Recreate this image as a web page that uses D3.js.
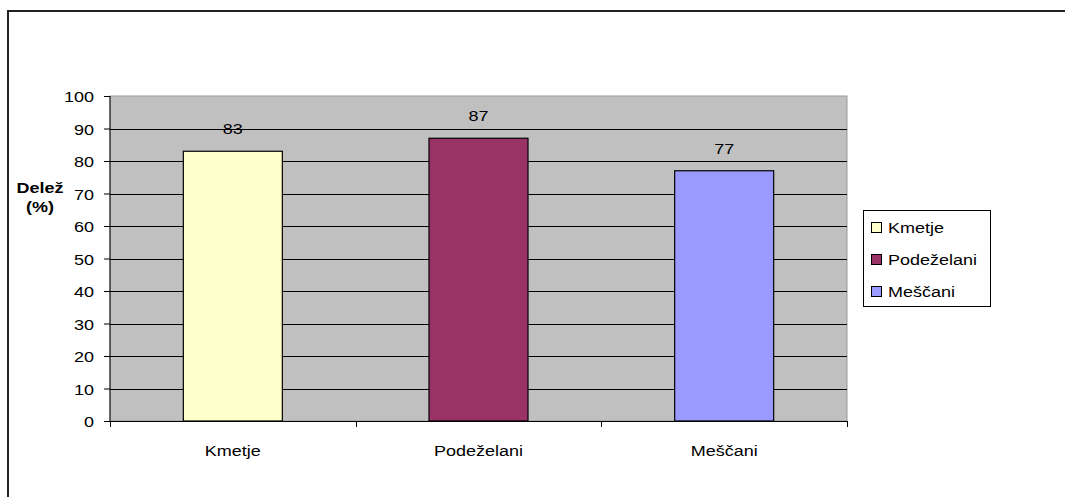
<!DOCTYPE html>
<html>
<head>
<meta charset="utf-8">
<script src="https://cdn.jsdelivr.net/npm/d3@7"></script>
<style>
  html, body { margin: 0; padding: 0; background: #fff; }
  svg { display: block; font-family: "Liberation Sans", Arial, sans-serif; }
</style>
</head>
<body>
<svg id="chart" width="1065" height="497"></svg>
<script>
// Share of respondents (%) by social group
const categories = ["Kmetje", "Podeželani", "Meščani"];
const values = [83, 87, 77];
const colors = ["#FFFFCC", "#993366", "#9999FF"];
const yTicks = [0, 10, 20, 30, 40, 50, 60, 70, 80, 90, 100];
const yTitle = ["Delež", "(%)"];

const FONT = 15;
const SX = 1.2; // horizontal text stretch

const svg = d3.select("#chart");

// place a text at (x, y) with a slight horizontal stretch
function label(parent, x, y, str, anchor, weight) {
  return parent.append("text")
    .attr("transform", `translate(${x},${y}) scale(${SX},1)`)
    .attr("text-anchor", anchor || "middle")
    .attr("font-size", FONT)
    .attr("font-weight", weight || "normal")
    .attr("fill", "#000")
    .text(str);
}

// outer chart frame (left and top edges)
svg.append("path")
  .attr("d", "M8,497 V11 H1065")
  .attr("fill", "none")
  .attr("stroke", "#222")
  .attr("stroke-width", 2);

const plot = { left: 110, right: 847, top: 96, bottom: 421 };

const x = d3.scaleBand()
  .domain(categories)
  .range([plot.left, plot.right])
  .padding(0);

const y = d3.scaleLinear()
  .domain([0, 100])
  .range([plot.bottom, plot.top]);

// plot background
svg.append("rect")
  .attr("x", plot.left)
  .attr("y", plot.top)
  .attr("width", plot.right - plot.left)
  .attr("height", plot.bottom - plot.top)
  .attr("fill", "#C0C0C0")
  .attr("stroke", "#999")
  .attr("stroke-width", 1);

// horizontal gridlines
svg.append("g")
  .selectAll("line")
  .data(yTicks.filter(t => t > 0 && t < 100))
  .join("line")
  .attr("x1", plot.left)
  .attr("x2", plot.right)
  .attr("y1", d => Math.round(y(d)) + 0.5)
  .attr("y2", d => Math.round(y(d)) + 0.5)
  .attr("stroke", "#000")
  .attr("stroke-width", 1);

// bars
const barW = x.bandwidth() * 0.403;
svg.append("g")
  .selectAll("rect")
  .data(categories)
  .join("rect")
  .attr("x", (d) => x(d) + (x.bandwidth() - barW) / 2)
  .attr("y", (d, i) => y(values[i]))
  .attr("width", barW)
  .attr("height", (d, i) => y(0) - y(values[i]))
  .attr("fill", (d, i) => colors[i])
  .attr("stroke", "#000")
  .attr("stroke-width", 1.2);

// value labels
const valG = svg.append("g");
categories.forEach((c, i) => {
  label(valG, x(c) + x.bandwidth() / 2, y(values[i]) - 17, values[i]);
});

// y axis
const yAxis = svg.append("g")
  .attr("transform", `translate(${plot.left},0)`)
  .call(d3.axisLeft(y).tickValues(yTicks).tickSize(6).tickPadding(0));
yAxis.selectAll("line, path").attr("stroke", "#000");
yAxis.select(".domain").attr("d", `M0,${plot.top}V${plot.bottom}`);
yAxis.selectAll(".tick text")
  .attr("x", null).attr("dy", null)
  .attr("font-size", FONT)
  .attr("fill", "#000")
  .attr("font-family", "'Liberation Sans', Arial, sans-serif")
  .attr("transform", `translate(-16,5.5) scale(${SX},1)`);

// x axis with ticks between categories
const xAxisG = svg.append("g")
  .attr("transform", `translate(0,${plot.bottom})`);
xAxisG.append("line")
  .attr("x1", plot.left).attr("x2", plot.right)
  .attr("y1", 0.5).attr("y2", 0.5)
  .attr("stroke", "#000");
const boundaries = categories.map(c => x(c)).concat([x(categories[categories.length - 1]) + x.bandwidth()]);
xAxisG.selectAll("line.tick")
  .data(boundaries)
  .join("line")
  .attr("class", "tick")
  .attr("x1", d => Math.round(d) + 0.5)
  .attr("x2", d => Math.round(d) + 0.5)
  .attr("y1", 0).attr("y2", 6)
  .attr("stroke", "#000");
categories.forEach(c => {
  label(xAxisG, x(c) + x.bandwidth() / 2, 34.5, c);
});

// y axis title
yTitle.forEach((t, i) => {
  label(svg, 40, 192.5 + i * 19.5, t, "middle", "bold");
});

// legend
const legend = svg.append("g").attr("transform", "translate(863,210)");
legend.append("rect")
  .attr("x", 0.5).attr("y", 0.5)
  .attr("width", 127).attr("height", 96)
  .attr("fill", "#fff")
  .attr("stroke", "#000");
categories.forEach((c, i) => {
  const row = legend.append("g").attr("transform", `translate(8,${17 + i * 32})`);
  row.append("rect")
    .attr("x", 0.5).attr("y", -4.5)
    .attr("width", 10).attr("height", 10)
    .attr("fill", colors[i])
    .attr("stroke", "#000");
  label(row, 17, 5.5, c, "start");
});
</script>
</body>
</html>
